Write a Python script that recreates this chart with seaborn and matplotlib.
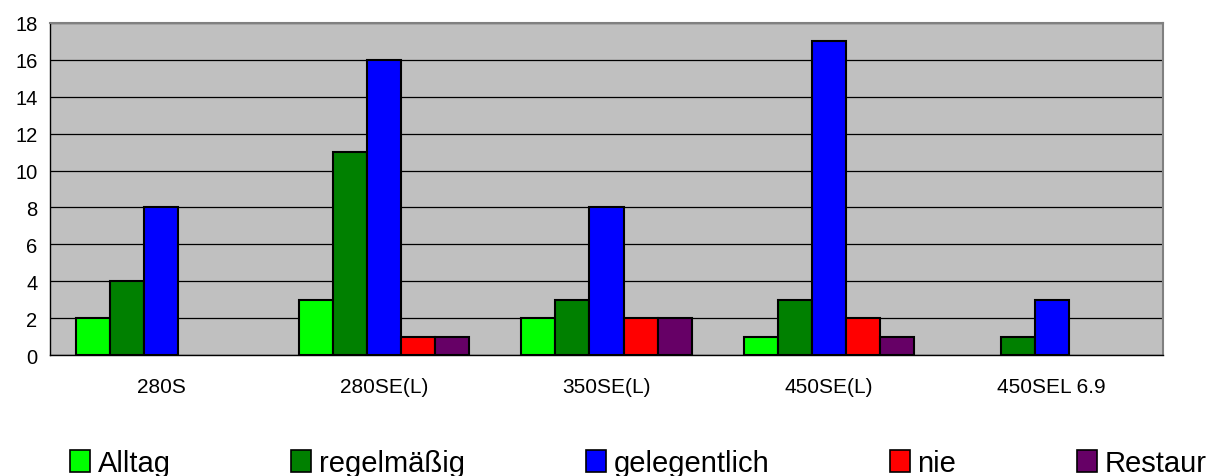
import numpy as np
import pandas as pd
import matplotlib
matplotlib.use("Agg")
import matplotlib.pyplot as plt
import seaborn as sns
from matplotlib.patches import Patch
from matplotlib.ticker import FixedLocator, NullFormatter

modelle = ["280S", "280SE(L)", "350SE(L)", "450SE(L)", "450SEL 6.9"]
nutzung = ["Alltag", "regelmäßig", "gelegentlich", "nie", "Restaur"]
alltag = [2, 3, 2, 1, 0]
regelmaessig = [4, 11, 3, 3, 1]
gelegentlich = [8, 16, 8, 17, 3]
nie = [0, 1, 2, 2, 0]
restaur = [0, 1, 2, 1, 0]
farben = ["#00FF00", "#008000", "#0000FF", "#FF0000", "#660066"]

werte = [alltag, regelmaessig, gelegentlich, nie, restaur]
df = pd.DataFrame({
    "Modell": [m for _ in nutzung for m in modelle],
    "Nutzung": [n for n in nutzung for _ in modelle],
    "Anzahl": [v for reihe in werte for v in reihe],
})

sns.set_style("white")
plt.rcParams["font.family"] = ["Liberation Sans", "DejaVu Sans"]
plt.rcParams["text.color"] = "black"
plt.rcParams["xtick.color"] = "black"
plt.rcParams["ytick.color"] = "black"

fig = plt.figure(figsize=(12.22, 4.77), dpi=100)
ax = fig.add_axes([50 / 1222, 1 - 356 / 477, 1113 / 1222, 332 / 477])
ax.set_facecolor("#C0C0C0")

sns.barplot(data=df, x="Modell", y="Anzahl", hue="Nutzung", order=modelle,
            hue_order=nutzung, palette=farben, width=0.764, gap=0,
            edgecolor="black", linewidth=1.5, saturation=1, legend=False, ax=ax)

# leere Balken (Wert 0) nicht als Strich zeigen
for p in ax.patches:
    if p.get_height() == 0:
        p.set_visible(False)

ax.set_xlim(-0.5, len(modelle) - 0.5)
ax.set_ylim(0, 18)
ax.set_yticks(np.arange(0, 19, 2))
ax.yaxis.grid(True, color="black", linewidth=0.9)
ax.set_axisbelow(True)
ax.set_xlabel("")
ax.set_ylabel("")

ax.xaxis.set_minor_locator(FixedLocator(np.arange(-0.5, len(modelle), 1)))
ax.xaxis.set_minor_formatter(NullFormatter())
ax.tick_params(axis="x", which="major", length=0, pad=16, labelsize=15)
ax.tick_params(axis="x", which="minor", length=6, width=1, color="#404040", direction="out")
ax.tick_params(axis="y", length=6, width=1, color="black", direction="out", labelsize=14.5, pad=3)

for seite in ["left", "bottom"]:
    ax.spines[seite].set_color("black")
    ax.spines[seite].set_linewidth(1)
for seite in ["top", "right"]:
    ax.spines[seite].set_color("#808080")
    ax.spines[seite].set_linewidth(1.5)

handles = [Patch(facecolor=f, edgecolor="black", linewidth=1.2) for f in farben]
fig.legend(handles, nutzung, loc="center left", bbox_to_anchor=(70 / 1222, 13 / 477),
           ncol=5, frameon=False, fontsize=21, handlelength=0.685, handleheight=0.75,
           handletextpad=0.27, columnspacing=4.13, borderpad=0, borderaxespad=0)

fig.savefig("out.png", dpi=100)
